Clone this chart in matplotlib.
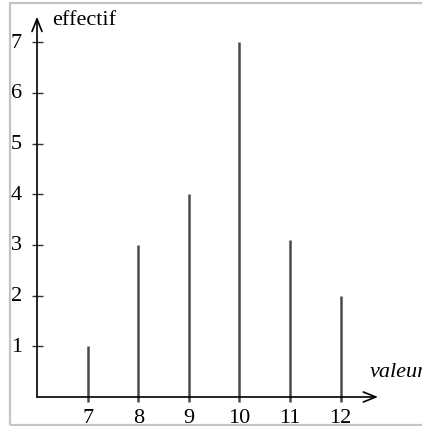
"""Diagramme en bâtons : effectif par valeur."""

import matplotlib.pyplot as plt
from matplotlib.patches import Rectangle

valeurs = [7, 8, 9, 10, 11, 12]
effectifs = [1, 3, 4, 7, 3.1, 2]
y_ticks = [1, 2, 3, 4, 5, 6, 7]

W, H = 422, 427
x0_px, y0_px = 37, 398          # origin position in pixels (from top-left)
ux, uy = 50.6, 50.7             # pixels per unit
x_origin = 6

fig = plt.figure(figsize=(W / 100, H / 100), dpi=100)
ax = fig.add_axes([0, 0, 1, 1])
ax.set_xlim(x_origin - x0_px / ux, x_origin + (W - x0_px) / ux)
ax.set_ylim(-(H - y0_px) / uy, y0_px / uy)
ax.axis("off")

serif = ["Liberation Serif", "DejaVu Serif"]
fs = 16

# frame
fig.patches.append(
    Rectangle((10 / W, 1 - 426 / H), 1.2, (426 - 4) / H,
              transform=fig.transFigure, fill=False,
              edgecolor="#c4c4c4", linewidth=1.6)
)

# axes with arrows
arrow = dict(arrowstyle="->,head_length=0.45,head_width=0.18",
             color="black", linewidth=1.2, shrinkA=0, shrinkB=0,
             mutation_scale=20)
ax.annotate("", xy=(12.74, 0), xytext=(x_origin, 0), arrowprops=arrow)
ax.annotate("", xy=(x_origin, 7.5), xytext=(x_origin, 0), arrowprops=arrow)

# bars
ax.vlines(valeurs, -0.1, effectifs, colors="#4a4a4a", linewidth=1.8)

# y ticks
ax.hlines(y_ticks, x_origin - 0.1, x_origin + 0.12, colors="#333333",
          linewidth=1.0)
for t in y_ticks:
    ax.text(x_origin - 0.3, t, str(t), ha="right", va="center",
            family=serif, fontsize=fs)

for v in valeurs:
    ax.text(v, -0.4, str(v), ha="center", va="center",
            family=serif, fontsize=fs)

ax.text(6.3, 7.36, "effectif", ha="left", va="baseline",
        family=serif, fontsize=fs)
ax.text(12.58, 0.41, "valeur", ha="left", va="baseline",
        family=serif, fontsize=fs, style="italic")

fig.savefig("out.png", dpi=100)
